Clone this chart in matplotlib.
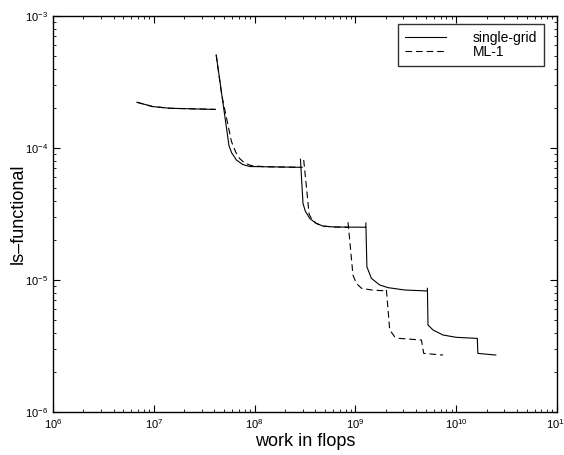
import numpy as np
import matplotlib
matplotlib.use("Agg")
import matplotlib.pyplot as plt

plt.rcParams['font.family'] = ['Liberation Sans', 'DejaVu Sans']
plt.rcParams['mathtext.fontset'] = 'custom'
plt.rcParams['mathtext.rm'] = 'Liberation Sans'

# single-grid: one list per restart segment (work in flops, ls-functional)
sg_x = [
    [6.81e6, 9.75e6, 1.44e7, 4.08e7],
    [4.16e7, 5.57e7, 5.93e7, 6.60e7, 7.62e7, 8.94e7, 1.26e8, 2.80e8],
    [2.85e8, 3.02e8, 3.18e8, 3.52e8, 4.04e8, 4.77e8, 6.24e8, 1.26e9],
    [1.27e9, 1.30e9, 1.44e9, 1.74e9, 2.11e9, 3.08e9, 5.15e9],
    [5.18e9, 5.25e9, 5.89e9, 7.40e9, 1.00e10, 1.62e10, 1.64e10, 2.47e10],
]
sg_y = [
    [2.22e-4, 2.06e-4, 2.00e-4, 1.96e-4],
    [5.07e-4, 1.04e-4, 9.17e-5, 8.11e-5, 7.50e-5, 7.24e-5, 7.21e-5, 7.14e-5],
    [8.21e-5, 3.81e-5, 3.33e-5, 2.93e-5, 2.70e-5, 2.56e-5, 2.52e-5, 2.51e-5],
    [2.70e-5, 1.26e-5, 1.03e-5, 9.17e-6, 8.75e-6, 8.40e-6, 8.26e-6],
    [8.65e-6, 4.56e-6, 4.18e-6, 3.83e-6, 3.68e-6, 3.61e-6, 2.78e-6, 2.70e-6],
]

# ML-1
ml_x = [
    [6.81e6, 9.75e6, 1.44e7, 4.08e7],
    [4.16e7, 4.72e7, 5.89e7, 6.49e7, 7.11e7, 7.98e7, 9.29e7, 1.26e8, 3.00e8],
    [3.07e8, 3.29e8, 3.47e8, 3.68e8, 4.10e8, 4.77e8, 6.24e8, 8.45e8],
    [8.45e8, 9.46e8, 1.02e9, 1.15e9, 1.45e9, 2.03e9],
    [2.03e9, 2.19e9, 2.45e9, 2.75e9, 4.52e9, 4.76e9, 7.40e9],
]
ml_y = [
    [2.22e-4, 2.06e-4, 2.00e-4, 1.96e-4],
    [5.07e-4, 2.52e-4, 1.12e-4, 9.33e-5, 8.32e-5, 7.69e-5, 7.35e-5, 7.21e-5, 7.14e-5],
    [8.11e-5, 4.81e-5, 3.16e-5, 2.90e-5, 2.68e-5, 2.56e-5, 2.52e-5, 2.51e-5],
    [2.74e-5, 1.09e-5, 9.44e-6, 8.65e-6, 8.40e-6, 8.26e-6],
    [8.40e-6, 4.18e-6, 3.72e-6, 3.61e-6, 3.51e-6, 2.78e-6, 2.70e-6],
]


def join(segs):
    out = []
    for s in segs:
        out += list(s) + [np.nan]
    return out[:-1]


fig = plt.figure(figsize=(5.64, 4.55), dpi=100)
ax = fig.add_axes([53 / 564, 43 / 455, 504 / 564, 396 / 455])

ax.plot(join(ml_x), join(ml_y), 'k--', lw=0.8, dashes=(6, 3.5), label='ML-1')
ax.plot(join(sg_x), join(sg_y), 'k-', lw=0.8, label='single-grid')

ax.set_xscale('log')
ax.set_yscale('log')
ax.set_xlim(1e6, 1e11)
ax.set_ylim(1e-6, 1e-3)

ax.tick_params(which='both', direction='in', top=True, right=True, labelsize=8)
ax.tick_params(which='major', length=5)
ax.tick_params(which='minor', length=2.5)
for s in ax.spines.values():
    s.set_linewidth(1.0)

ax.set_xlabel('work in flops', fontsize=13, labelpad=2)
ax.set_ylabel('ls\u2013functional', fontsize=13, labelpad=-1)

h, l = ax.get_legend_handles_labels()
leg = ax.legend(h[::-1], l[::-1], loc='upper right', bbox_to_anchor=(0.974, 0.980),
                frameon=True, fancybox=False, edgecolor='k', fontsize=10,
                handlelength=3.0, handletextpad=1.9, borderpad=0.5, labelspacing=0.0,
                borderaxespad=0)
leg.get_frame().set_linewidth(1.0)

fig.savefig('out.png', dpi=100)
